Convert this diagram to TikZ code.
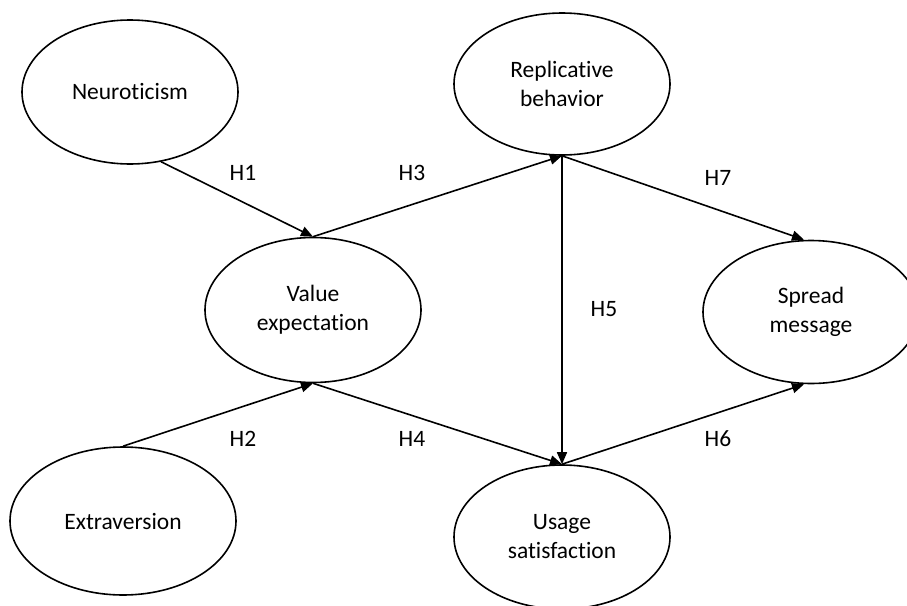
\documentclass[tikz,border=0pt]{standalone}
\usepackage{fontspec}
\setmainfont{Carlito}[Ligatures=NoCommon]
\usetikzlibrary{shapes.geometric,arrows.meta}
\begin{document}
\begin{tikzpicture}[x=1pt,y=-1pt,
  construct/.style={ellipse,draw,line width=1.6pt,inner sep=0pt,align=center,
    font=\fontsize{23.5}{29}\selectfont},
  link/.style={line width=1.6pt,-{Triangle[length=12pt,width=10pt]}},
  hlabel/.style={font=\fontsize{23.5}{28}\selectfont}]
\useasboundingbox (0,0) rectangle (907,605);
\node[construct,minimum width=216pt,minimum height=144pt] (neu) at (130,92) {Neuroticism};
\node[construct,minimum width=216pt,minimum height=142pt] (rep) at (562,84) {Replicative\\behavior};
\node[construct,minimum width=216pt,minimum height=145pt] (val) at (313,310) {Value\\expectation};
\node[construct,minimum width=216pt,minimum height=143pt] (spr) at (811,312) {Spread\\message};
\node[construct,minimum width=226pt,minimum height=148pt] (ext) at (123,521) {Extraversion};
\node[construct,minimum width=216pt,minimum height=144pt] (use) at (562,537) {Usage\\satisfaction};

\draw[link] (neu.-66) -- (val.north);
\draw[link] (val.north) -- (rep.south);
\draw[link] (rep.south) -- (use.north);
\draw[link] (rep.south) -- ([xshift=-7pt]spr.north);
\draw[link] (ext.north) -- (val.south);
\draw[link] (val.south) -- (use.north);
\draw[link] (use.north) -- ([xshift=-7pt]spr.south);

\node[hlabel] (h1) at (243,173) {H1};
\node[hlabel] (h3) at (412,173) {H3};
\node[hlabel] (h7) at (718,178) {H7};
\node[hlabel] (h5) at (604,309) {H5};
\node[hlabel] (h2) at (243,439) {H2};
\node[hlabel] (h4) at (412,439) {H4};
\node[hlabel] (h6) at (718,439) {H6};
\end{tikzpicture}
\end{document}
